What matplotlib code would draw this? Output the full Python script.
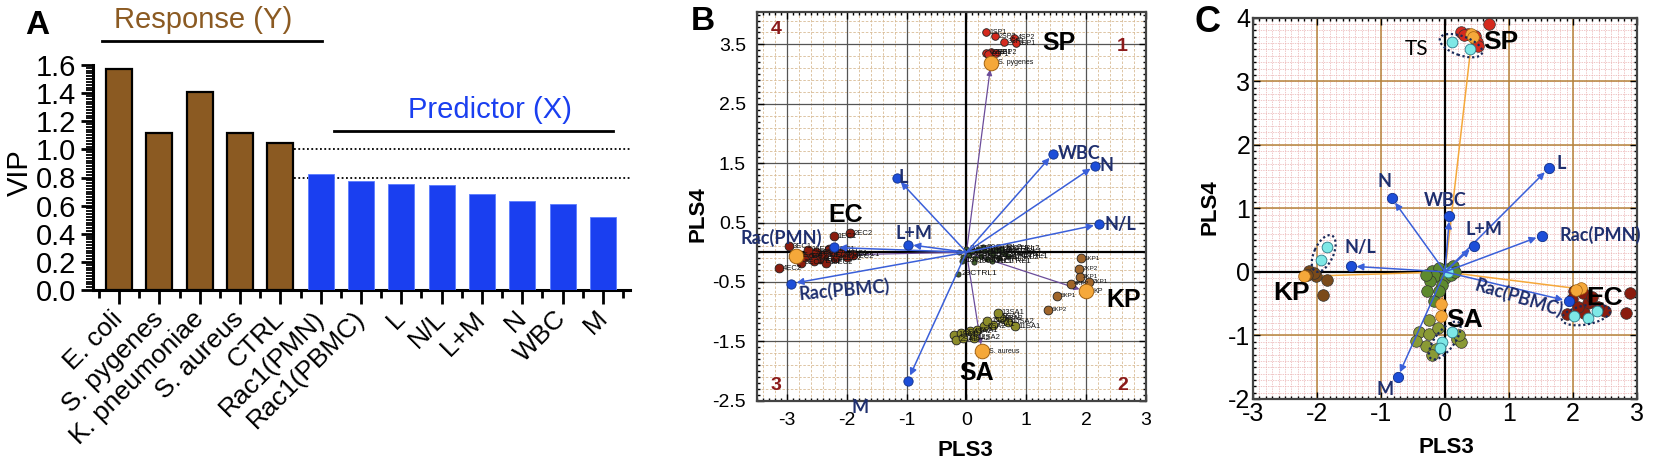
import numpy as np
import matplotlib
matplotlib.use('Agg')
import matplotlib.pyplot as plt
from matplotlib.patches import Ellipse
from matplotlib.ticker import MultipleLocator, FixedLocator

plt.rcParams['font.family'] = ['Liberation Sans', 'DejaVu Sans']
plt.rcParams['axes.unicode_minus'] = False

# ---------------- data: panel A (VIP) ----------------
vip_labels = ['E. coli', 'S. pygenes', 'K. pneumoniae', 'S. aureus', 'CTRL',
              'Rac1(PMN)', 'Rac1(PBMC)', 'L', 'N/L', 'L+M', 'N', 'WBC', 'M']
vip_values = [1.57, 1.114, 1.407, 1.114, 1.047,
              0.824, 0.776, 0.757, 0.745, 0.683, 0.633, 0.609, 0.519]
n_response = 5
vip_thresholds = [1.0, 0.8]

# ---------------- data: loadings (B and C) ----------------
var_names = ['WBC', 'N', 'N/L', 'L', 'L+M', 'Rac(PMN)', 'Rac(PBMC)', 'M']
b_load_x = [1.45, 2.15, 2.22, -1.16, -0.98, -2.22, -2.93, -0.98]
b_load_y = [1.66, 1.46, 0.47, 1.25, 0.13, 0.08, -0.53, -2.16]
c_load_x = [0.07, -0.83, -1.47, 1.62, 0.45, 1.51, 1.93, -0.74]
c_load_y = [0.88, 1.16, 0.09, 1.63, 0.41, 0.57, -0.46, -1.66]

# ---------------- data: scores panel B ----------------
b_sp_x = [0.33, 0.47, 0.63, 0.80, 0.82, 0.32, 0.41, 0.50, 0.36]
b_sp_y = [3.70, 3.64, 3.54, 3.61, 3.52, 3.36, 3.37, 3.36, 3.33]
b_ec_x = [-2.22, -1.95, -2.97, -3.13, -2.77, -2.70, -2.60, -2.52, -2.45, -2.38,
          -2.30, -2.20, -2.10, -2.00, -1.90, -2.65, -2.55, -2.35, -2.25]
b_ec_y = [0.27, 0.32, 0.10, -0.27, -0.18, -0.08, -0.03, 0.00, -0.12, -0.05,
          0.05, -0.10, -0.02, -0.08, -0.04, 0.04, -0.15, -0.18, 0.02]
b_kp_x = [1.92, 1.88, 1.89, 1.74, 1.51, 1.36, 2.05]
b_kp_y = [-0.10, -0.28, -0.41, -0.53, -0.73, -0.97, -0.50]
b_sa_x = [-0.20, -0.17, -0.09, 0.06, 0.17, 0.29, 0.44, 0.58, 0.55, 0.70,
          0.81, 0.12, 0.52, -0.05, 0.35]
b_sa_y = [-1.39, -1.47, -1.36, -1.33, -1.31, -1.25, -1.22, -1.11, -1.08, -1.17,
          -1.25, -1.44, -1.02, -1.45, -1.15]
b_ctrl_x = [-0.12, -0.05, 0.00, 0.05, 0.10, 0.15, 0.20, 0.25, 0.30, 0.35, 0.40,
            0.45, 0.50, 0.55, 0.60, 0.65, 0.70, -0.08, 0.12, 0.28, 0.42, 0.58, -0.14]
b_ctrl_y = [0.00, -0.08, 0.06, -0.04, 0.02, -0.10, 0.05, -0.06, 0.03, -0.12, 0.00,
            -0.05, 0.04, -0.09, 0.01, -0.03, -0.07, -0.14, -0.16, 0.08, -0.15, 0.06, -0.36]
# centroid (orange) per bacterium: SP, EC, KP, SA
b_cent_names = ['S. pygenes', 'E. coli', 'KP', 'S. aureus']
b_cent_x = [0.41, -2.85, 2.00, 0.26]
b_cent_y = [3.19, -0.06, -0.66, -1.67]

# ---------------- data: scores panel C ----------------
c_sp_x = [0.69, 0.25, 0.36, 0.47, 0.50, 0.52, 0.30]
c_sp_y = [3.90, 3.77, 3.74, 3.71, 3.61, 3.56, 3.72]
c_kp_x = [-2.12, -2.01, -1.84, -1.90, -2.05, -2.15]
c_kp_y = [0.01, -0.07, -0.12, -0.37, -0.02, -0.05]
c_ec_x = [2.01, 2.15, 1.98, 2.23, 2.17, 2.50, 2.89, 2.83, 2.39, 1.90, 2.08, 2.30]
c_ec_y = [-0.30, -0.33, -0.43, -0.49, -0.64, -0.62, -0.33, -0.64, -0.55, -0.67, -0.55, -0.40]
c_sa_x = [-0.25, -0.41, -0.25, -0.30, -0.14, 0.19, 0.25, -0.11, -0.45, 0.22, -0.20]
c_sa_y = [-0.75, -0.95, -0.98, -1.16, -1.22, -1.06, -1.11, -0.88, -1.08, -1.00, -1.30]
c_ctrl_x = [-0.20, -0.10, 0.05, 0.13, -0.15, -0.23, -0.28, -0.17, 0.00, 0.10, -0.05, 0.15, -0.30, -0.10]
c_ctrl_y = [0.01, 0.06, 0.04, 0.09, -0.07, -0.15, -0.30, -0.46, -0.10, -0.05, -0.20, 0.00, -0.05, -0.30]
# orange centroids per group: SP, KP, EC, SA
c_orange_x = [[0.41, 0.44], [-2.20], [2.12, 2.05], [-0.06, -0.06]]
c_orange_y = [[3.74, 3.70], [-0.07], [-0.25, -0.28], [-0.51, -0.69]]
# cyan test samples per group: SP, KP, EC, SA, CTRL
c_cyan_x = [[0.11, 0.39], [-1.85, -1.94], [2.01, 2.23, 2.37], [0.11, -0.04, -0.08], [0.05]]
c_cyan_y = [[3.61, 3.51], [0.39, 0.19], [-0.69, -0.72, -0.62], [-0.94, -1.11, -1.19], [0.0]]

# ---------------- styles ----------------
BROWN = '#8b5a22'
BLUE_BAR = '#1a3ff0'
NAVY = '#1f2f6e'
ARROW = '#3a5fd9'
DOT = '#1d4ed8'
PURPLE = '#6b4c9a'
ORANGE = '#f5a83a'
LAB_FONT = ['Lato', 'DejaVu Sans']

fig = plt.figure(figsize=(16.54, 4.66), dpi=100)
W, H = 1654.0, 466.0


def add_ax(l, r, t, b):
    return fig.add_axes([l / W, 1 - b / H, (r - l) / W, (b - t) / H])


# =============== Panel A ===============
axA = add_ax(93, 630, 65, 290)
xpos = np.arange(len(vip_values))
cols = [BROWN] * n_response + [BLUE_BAR] * (len(vip_values) - n_response)
edges = ['black'] * n_response + ['#5a7cff'] * (len(vip_values) - n_response)
axA.bar(xpos, vip_values, width=0.65, color=cols, edgecolor=edges,
        linewidth=[1.6] * n_response + [0.6] * (len(vip_values) - n_response), zorder=3)
for t in vip_thresholds:
    axA.plot([n_response - 1 + 0.33, 12.67], [t, t], ls=(0, (1, 1.4)), color='black',
             lw=1.3, zorder=1, clip_on=False)
axA.set_xlim(-0.645, 12.67)
axA.set_ylim(0, 1.6)
axA.spines['top'].set_visible(False)
axA.spines['right'].set_visible(False)
axA.spines['left'].set_linewidth(2.2)
axA.spines['bottom'].set_linewidth(2.2)
axA.spines['left'].set_bounds(0, 1.6)
axA.yaxis.set_major_locator(FixedLocator(np.round(np.arange(0, 1.61, 0.2), 1)))
axA.yaxis.set_minor_locator(MultipleLocator(0.02))
axA.set_yticklabels([f'{v:.1f}' for v in np.arange(0, 1.61, 0.2)], fontsize=21)
axA.set_xticks(xpos)
axA.xaxis.set_minor_locator(FixedLocator(np.arange(-0.5, 13, 1.0)))
axA.set_xticklabels(vip_labels, rotation=45, ha='right', va='center',
                    rotation_mode='anchor', fontsize=19)
axA.tick_params(axis='y', which='major', length=9, width=2, pad=3)
axA.tick_params(axis='y', which='minor', length=5, width=1.3)
axA.tick_params(axis='x', which='major', length=10, width=2, pad=8)
axA.tick_params(axis='x', which='minor', length=6, width=2)
axA.set_ylabel('VIP', fontsize=21)
axA.yaxis.set_label_coords(-0.11, 0.52)
axA.text(2.08, 1.92, 'Response (Y)', color=BROWN, fontsize=21, ha='center', va='center', clip_on=False)
axA.plot([-0.42, 5.04], [1.77, 1.77], color='black', lw=2, clip_on=False)
axA.text(9.2, 1.28, 'Predictor (X)', color=BLUE_BAR, fontsize=21, ha='center', va='center', clip_on=False)
axA.plot([5.33, 12.26], [1.13, 1.13], color='black', lw=2, clip_on=False)
fig.text(37 / W, 1 - 25 / H, 'A', fontsize=24, fontweight='bold', ha='center', va='center')

# =============== Panel B ===============
axB = add_ax(757, 1146, 11.7, 400.7)
axB.set_xlim(-3.5, 3.0)
axB.set_ylim(-2.5, 4.05)
for gx in np.arange(-3.4, 3.0, 0.2):
    axB.axvline(gx, color='#d8bb95', lw=0.6, ls=(0, (3, 2)), zorder=0)
for gy in np.arange(-2.3, 4.05, 0.2):
    axB.axhline(gy, color='#d8bb95', lw=0.6, ls=(0, (3, 2)), zorder=0)
for gx in np.arange(-3, 3, 1):
    axB.axvline(gx, color='#555555', lw=0.9, zorder=0.5)
for gy in np.arange(-1.5, 4.0, 1.0):
    axB.axhline(gy, color='#555555', lw=0.9, zorder=0.5)
axB.axvline(0, color='black', lw=1.6, zorder=0.6)
axB.axhline(0, color='black', lw=1.6, zorder=0.6)
axB.set_xticks(np.arange(-3, 4, 1))
axB.set_xticklabels([str(v) for v in range(-3, 4)], fontsize=14)
axB.set_yticks(np.arange(-2.5, 4.0, 1.0))
axB.set_yticklabels([f'{v:.1f}' for v in np.arange(-2.5, 4.0, 1.0)], fontsize=14)
axB.xaxis.set_minor_locator(MultipleLocator(0.1))
axB.yaxis.set_minor_locator(FixedLocator(np.arange(-2.5, 4.05, 0.1)))
axB.tick_params(which='both', direction='in', top=True, right=True, width=1)
axB.tick_params(which='major', length=5, pad=8)
axB.tick_params(which='minor', length=2.5)
for s in axB.spines.values():
    s.set_linewidth(1.6)
    s.set_color('#444444')
axB.set_xlabel('PLS3', fontsize=16, fontweight='bold')
axB.xaxis.set_label_coords(0.535, -0.1)
axB.set_ylabel('PLS4', fontsize=16, fontweight='bold')
axB.yaxis.set_label_coords(-0.125, 0.48)

# response (purple) vectors to the centroids
for cx, cy in zip(b_cent_x, b_cent_y):
    axB.annotate('', xy=(cx, cy), xytext=(0, 0),
                 arrowprops=dict(arrowstyle='-|>', color=PURPLE, lw=0.9, shrinkA=0, shrinkB=5,
                                 mutation_scale=8), zorder=2)
# predictor loadings
for name, lx, ly in zip(var_names, b_load_x, b_load_y):
    axB.annotate('', xy=(lx, ly), xytext=(0, 0),
                 arrowprops=dict(arrowstyle='-|>', color=ARROW, lw=1.1, shrinkA=0, shrinkB=4,
                                 mutation_scale=10), zorder=4)
axB.scatter(b_load_x, b_load_y, s=45, color=DOT, edgecolor='#10308a', lw=0.6, zorder=5)

b_lab = {'WBC': (0.08, 0.0, 'left', 0), 'N': (0.08, 0.0, 'left', 0),
         'N/L': (0.08, 0.0, 'left', 0), 'L': (0.03, 0.0, 'left', 0),
         'L+M': (0.11, 0.19, 'center', 0), 'Rac(PMN)': (-0.87, 0.16, 'center', 0),
         'Rac(PBMC)': (0.88, -0.11, 'center', 5), 'M': (-0.79, -0.45, 'center', 0)}
for name, lx, ly in zip(var_names, b_load_x, b_load_y):
    dx, dy, ha, rot = b_lab[name]
    axB.text(lx + dx, ly + dy, name, color=NAVY, fontsize=13, fontweight='bold',
             family=LAB_FONT, ha=ha, va='center', rotation=rot, zorder=6, clip_on=False)

# sample scores
groups_b = [(b_ctrl_x, b_ctrl_y, '#3d5a2a', 14, 'CTRL', 6),
            (b_ec_x, b_ec_y, '#8a1c0e', 40, 'EC', 5.5),
            (b_kp_x, b_kp_y, '#a0652a', 40, 'KP', 4.5),
            (b_sa_x, b_sa_y, '#8c8c2a', 40, 'SA', 5.5),
            (b_sp_x, b_sp_y, '#d42a1e', 30, 'SP', 5)]
for gx, gy, col, sz, tag, fs in groups_b:
    axB.scatter(gx, gy, s=sz, color=col, edgecolor='#222222', lw=0.6, zorder=3)
    for i, (px, py) in enumerate(zip(gx, gy)):
        axB.text(px + 0.06, py, f'{i + 1}{tag}{i % 2 + 1}', fontsize=fs, color='#111111',
                 va='center', zorder=3)
axB.scatter(b_cent_x, b_cent_y, s=110, color=ORANGE, edgecolor='#a06010', lw=0.7, zorder=3.5)
for name, cx, cy in zip(b_cent_names, b_cent_x, b_cent_y):
    axB.text(cx + 0.12, cy, name, fontsize=5, color='#111111', va='center', zorder=3.5)

for txt, tx, ty in [('SP', 1.55, 3.53), ('EC', -2.02, 0.63), ('KP', 2.62, -0.80), ('SA', 0.17, -2.03)]:
    axB.text(tx, ty, txt, fontsize=18, fontweight='bold', ha='center', va='center', zorder=7)
for txt, tx, ty in [('4', -3.18, 3.75), ('1', 2.61, 3.46), ('3', -3.18, -2.25), ('2', 2.61, -2.25)]:
    axB.text(tx, ty, txt, fontsize=14, fontweight='bold', color='#8b1a1a', ha='center', va='center')
fig.text(703 / W, 1 - 22 / H, 'B', fontsize=24, fontweight='bold', ha='center', va='center')

# =============== Panel C ===============
axC = add_ax(1253, 1637, 17.7, 399)
axC.set_xlim(-3, 3)
axC.set_ylim(-2, 4)
for gx in np.arange(-2.9, 3.0, 0.1):
    axC.axvline(gx, color='#eab0b0', lw=0.5, ls=(0, (2, 1.5)), zorder=0)
for gy in np.arange(-1.9, 4.0, 0.1):
    axC.axhline(gy, color='#eab0b0', lw=0.5, ls=(0, (2, 1.5)), zorder=0)
for gx in np.arange(-2, 3, 1):
    axC.axvline(gx, color='#b5823a', lw=1.1, zorder=0.5)
for gy in np.arange(-1, 4, 1):
    axC.axhline(gy, color='#b5823a', lw=1.1, zorder=0.5)
axC.axvline(0, color='black', lw=1.6, zorder=0.6)
axC.axhline(0, color='black', lw=1.6, zorder=0.6)
axC.set_xticks(np.arange(-3, 4, 1))
axC.set_xticklabels([str(v) for v in range(-3, 4)], fontsize=18)
axC.set_yticks(np.arange(-2, 5, 1))
axC.set_yticklabels([str(v) for v in range(-2, 5)], fontsize=18)
axC.xaxis.set_minor_locator(MultipleLocator(0.1))
axC.yaxis.set_minor_locator(MultipleLocator(0.1))
axC.tick_params(which='both', direction='in', top=True, right=True, width=1)
axC.tick_params(which='major', length=5, pad=2)
axC.tick_params(which='minor', length=2.5)
for s in axC.spines.values():
    s.set_linewidth(1.6)
    s.set_color('#444444')
axC.set_xlabel('PLS3', fontsize=16, fontweight='bold')
axC.xaxis.set_label_coords(0.503, -0.1)
axC.set_ylabel('PLS4', fontsize=16, fontweight='bold')
axC.yaxis.set_label_coords(-0.085, 0.504)

# orange response lines from origin to group centroids
for ox, oy in zip(c_orange_x, c_orange_y):
    axC.plot([0, np.mean(ox)], [0, np.mean(oy)], color=ORANGE, lw=1.1, zorder=2)

for name, lx, ly in zip(var_names, c_load_x, c_load_y):
    axC.annotate('', xy=(lx, ly), xytext=(0, 0),
                 arrowprops=dict(arrowstyle='-|>', color=ARROW, lw=1.1, shrinkA=0, shrinkB=4,
                                 mutation_scale=10), zorder=4)
axC.scatter(c_load_x, c_load_y, s=55, color=DOT, edgecolor='#10308a', lw=0.6, zorder=5)
c_lab = {'WBC': (-0.07, 0.25, 'center', 0), 'N': (-0.11, 0.27, 'center', 0),
         'N/L': (0.15, 0.29, 'center', 0), 'L': (0.2, 0.08, 'center', 0),
         'L+M': (0.16, 0.25, 'center', 0), 'Rac(PMN)': (0.91, 0.01, 'center', 0),
         'Rac(PBMC)': (-0.77, 0.05, 'center', -17), 'M': (-0.2, -0.19, 'center', 0)}
for name, lx, ly in zip(var_names, c_load_x, c_load_y):
    dx, dy, ha, rot = c_lab[name]
    axC.text(lx + dx, ly + dy, name, color=NAVY, fontsize=13, fontweight='bold',
             family=LAB_FONT, ha=ha, va='center', rotation=rot, zorder=6, clip_on=False)

groups_c = [(c_ctrl_x, c_ctrl_y, '#5d8a2e'), (c_sa_x, c_sa_y, '#8a9a35'),
            (c_kp_x, c_kp_y, '#7a4a1a'), (c_ec_x, c_ec_y, '#8a1c0e'), (c_sp_x, c_sp_y, '#d42a1e')]
for gx, gy, col in groups_c:
    axC.scatter(gx, gy, s=70, color=col, edgecolor='#333333', lw=0.5, zorder=3)
for ox, oy in zip(c_orange_x, c_orange_y):
    axC.scatter(ox, oy, s=70, color=ORANGE, edgecolor='#a06010', lw=0.5, zorder=3.2)
for cx, cy in zip(c_cyan_x, c_cyan_y):
    axC.scatter(cx, cy, s=60, color='#7ee8e6', edgecolor='#2a7a8a', lw=0.6, zorder=3.5)
# dotted outlines around the test samples (derived from the cyan points)
for cx, cy in zip(c_cyan_x[:4], c_cyan_y[:4]):
    mx, my = np.mean(cx), np.mean(cy)
    dx, dy = cx[-1] - cx[0], cy[-1] - cy[0]
    ang = np.degrees(np.arctan2(dy, dx))
    length = np.hypot(dx, dy) + 0.4
    axC.add_patch(Ellipse((mx, my), length, 0.3, angle=ang, fill=False,
                          ls=(0, (1, 1.2)), lw=1.6, ec='#1a2a5a', zorder=3.6))

for txt, tx, ty in [('SP', 0.88, 3.61), ('KP', -2.39, -0.33), ('EC', 2.5, -0.41), ('SA', 0.3, -0.75)]:
    axC.text(tx, ty, txt, fontsize=19, fontweight='bold', ha='center', va='center', zorder=7)
axC.text(-0.45, 3.51, 'TS', fontsize=15, family=LAB_FONT, ha='center', va='center', zorder=7)
fig.text(1207 / W, 1 - 23 / H, 'C', fontsize=26, fontweight='bold', ha='center', va='center')

fig.savefig('out.png', dpi=100)
